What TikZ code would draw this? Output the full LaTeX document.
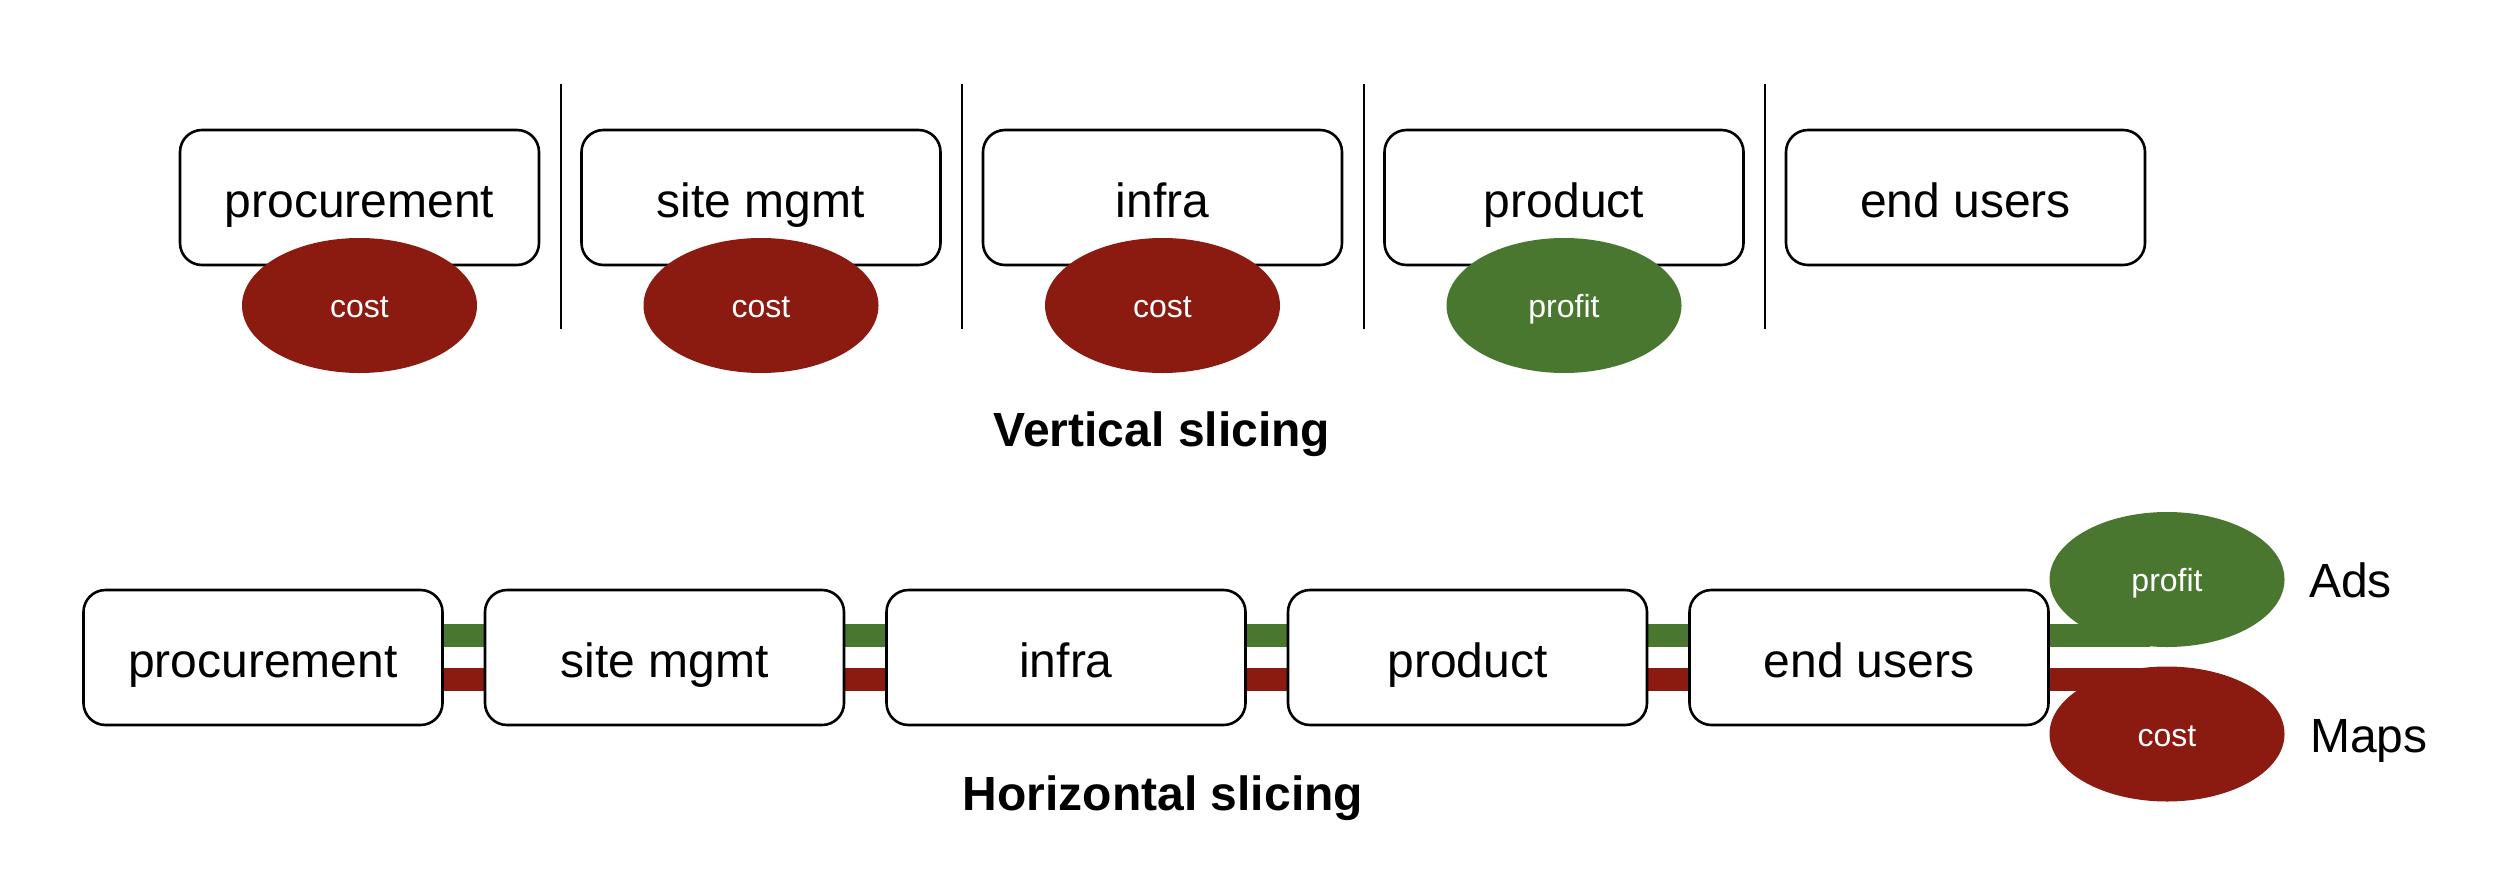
\documentclass[tikz,border=0pt]{standalone}
\usepackage{fontspec}
\setmainfont{Liberation Sans}
\usetikzlibrary{shapes.geometric,backgrounds}
\definecolor{costred}{HTML}{8B1A11}
\definecolor{profitgreen}{HTML}{4A772F}
\tikzset{
  stagebox/.style={draw=black, line width=2.6pt, fill=white, rounded corners=22pt,
    minimum width=359pt, minimum height=135pt, inner sep=0pt,
    font=\fontsize{48}{48}\selectfont, text height=40pt, text depth=0pt},
  blob/.style={ellipse, draw=none, minimum width=235pt, minimum height=135pt, inner sep=0pt,
    text=white, font=\fontsize{32}{32}\selectfont, text height=24pt, text depth=0pt},
  costblob/.style={blob, fill=costred},
  profitblob/.style={blob, fill=profitgreen},
  separator/.style={draw=black, line width=2pt},
  gband/.style={draw=profitgreen, line width=23pt},
  rband/.style={draw=costred, line width=23pt},
  title/.style={font=\fontsize{48}{48}\selectfont\bfseries, anchor=base, inner sep=0pt},
  sidelabel/.style={font=\fontsize{48}{48}\selectfont, anchor=base west, inner sep=0pt},
}
\begin{document}
\begin{tikzpicture}[x=1pt, y=-1pt]
\useasboundingbox (0,0) rectangle (2518,880);
% ---- vertical slicing ----
\node[stagebox] (t1) at (359.5,197.5) {procurement};
\node[stagebox] (t2) at (761,197.5) {site mgmt};
\node[stagebox] (t3) at (1162.5,197.5) {infra};
\node[stagebox] (t4) at (1564,197.5) {product};
\node[stagebox] (t5) at (1965.5,197.5) {end users};
\node[costblob] (c1) at (359.5,305.5) {cost};
\node[costblob] (c2) at (761,305.5) {cost};
\node[costblob] (c3) at (1162.5,305.5) {cost};
\node[profitblob] (p4) at (1564,305.5) {profit};
\coordinate (s1a) at (560.5,84); \coordinate (s1b) at (560.5,329);
\coordinate (s2a) at (962,84); \coordinate (s2b) at (962,329);
\coordinate (s3a) at (1363.5,84); \coordinate (s3b) at (1363.5,329);
\coordinate (s4a) at (1765,84); \coordinate (s4b) at (1765,329);
\draw[separator] (s1a) -- (s1b);
\draw[separator] (s2a) -- (s2b);
\draw[separator] (s3a) -- (s3b);
\draw[separator] (s4a) -- (s4b);
\node[title] (vt) at (1162,446) {Vertical slicing};
% ---- horizontal slicing ----
\node[stagebox] (b1) at (263,657.5) {procurement};
\node[stagebox] (b2) at (664.5,657.5) {site mgmt};
\node[stagebox] (b3) at (1066,657.5) {infra};
\node[stagebox] (b4) at (1467.5,657.5) {product};
\node[stagebox] (b5) at (1869,657.5) {end users};
\node[profitblob] (ads) at (2167,579.5) {profit};
\node[costblob] (maps) at (2167,734) {cost};
\coordinate (gend) at (2150,635.5);
\coordinate (rend) at (2150,679.5);
\begin{scope}[on background layer]
\foreach \a/\b in {b1/b2,b2/b3,b3/b4,b4/b5}{
  \draw[gband] ([yshift=22pt]\a.east) -- ([yshift=22pt]\b.west);
  \draw[rband] ([yshift=-22pt]\a.east) -- ([yshift=-22pt]\b.west);
}
\draw[gband] ([yshift=22pt]b5.east) -- (gend);
\draw[rband] ([yshift=-22pt]b5.east) -- (rend);
\end{scope}
\node[sidelabel] (adsl) at (2309,597) {Ads};
\node[sidelabel] (mapsl) at (2310,752) {Maps};
\node[title] (ht) at (1163,810) {Horizontal slicing};
\end{tikzpicture}
\end{document}
